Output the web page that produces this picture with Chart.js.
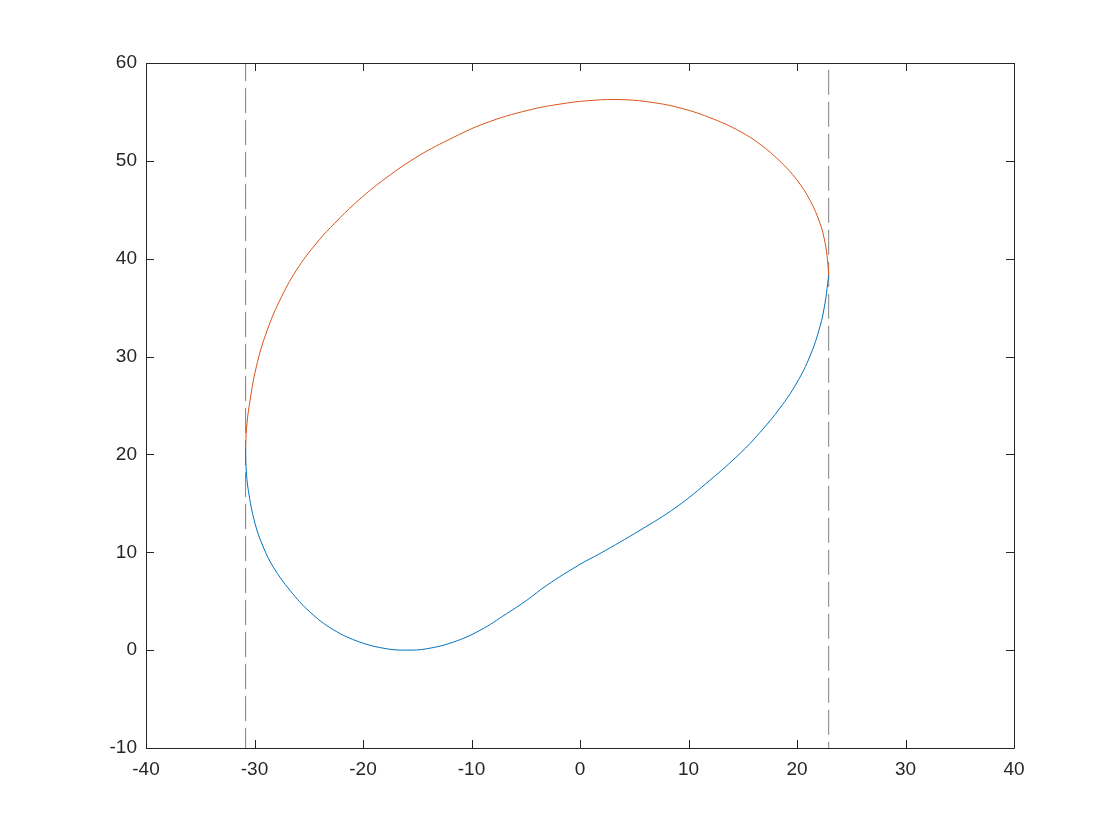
<!DOCTYPE html>
<html>
<head>
<meta charset="utf-8">
<script src="https://cdn.jsdelivr.net/npm/chart.js@4/dist/chart.umd.min.js"></script>
<style>
  html, body { margin: 0; padding: 0; background: #fff; }
  #wrap { width: 1120px; height: 840px; }
</style>
</head>
<body>
<div id="wrap"><canvas id="plot" width="1120" height="840"></canvas></div>
<script>
// upper (red) branch of the closed curve
var upperX = [-30.82, -30.74, -30.50, -29.83, -28.82, -27.50, -25.92, -24.03, -22.60, -20.70, -18.30, -15.20,
  -12.10, -8.68, -4.82, -1.55, 1.23, 3.69, 6.15, 9.22, 12.29, 14.75, 16.59, 18.43, 19.97, 21.20, 22.12,
  22.58, 22.81, 22.92];
var upperY = [20.7, 22.6, 24.87, 28.96, 32.72, 36.13, 39.20, 41.93, 43.64, 45.69, 47.90, 50.29,
  52.16, 53.87, 55.16, 55.85, 56.19, 56.26, 56.05, 55.41, 54.28, 53.01, 51.70, 49.96, 48.08, 45.97, 43.62,
  41.67, 39.88, 38.3];

// lower (blue) branch
var lowerX = [-30.82, -30.78, -30.57, -29.95, -29.19, -28.27, -26.73, -24.88, -22.74, -20.28, -17.82, -15.97,
  -14.13, -11.68, -9.22, -6.76, -4.91, -3.07, 0.0, 1.84, 5.53, 8.91, 11.98, 14.75, 16.59, 18.43, 19.97,
  21.20, 22.12, 22.58, 22.83, 22.92];
var lowerY = [20.7, 18.73, 16.34, 12.94, 10.54, 8.49, 6.11, 3.89, 2.09, 0.82, 0.14, 0.0,
  0.14, 0.82, 2.02, 3.73, 5.09, 6.62, 8.77, 9.87, 12.25, 14.64, 17.37, 20.10, 22.25, 24.74, 27.30,
  30.06, 33.07, 35.45, 37.50, 38.3];

// vertical dashed limit lines
var limitX = [-30.82, 22.92];
var limitTop = [60.7, 59.3];
var limitBottom = [-10, -10];

var xTicks = [-40, -30, -20, -10, 0, 10, 20, 30, 40];
var yTicks = [-10, 0, 10, 20, 30, 40, 50, 60];

var axisColor = '#262626';

function pts(xs, ys) {
  return xs.map(function (x, i) { return { x: x, y: ys[i] }; });
}

var datasets = [
  { data: pts(lowerX, lowerY), borderColor: '#0072BD', borderWidth: 1, tension: 0.4 },
  { data: pts(upperX, upperY), borderColor: '#D95319', borderWidth: 1, tension: 0.4 }
];
limitX.forEach(function (x, i) {
  datasets.push({
    data: [{ x: x, y: limitTop[i] }, { x: x, y: limitBottom[i] }],
    borderColor: '#808080', borderWidth: 1, borderDash: [25, 7], tension: 0
  });
});

// matlab style box with inward ticks on all four sides
var boxPlugin = {
  id: 'box',
  afterDraw: function (chart) {
    var ctx = chart.ctx;
    var a = chart.chartArea;
    var xs = chart.scales.x, ys = chart.scales.y;
    var len = 8;
    ctx.save();
    ctx.strokeStyle = axisColor;
    ctx.lineWidth = 1;
    ctx.beginPath();
    ctx.rect(Math.round(a.left) + 0.5, Math.round(a.top) + 0.5, Math.round(a.right - a.left), Math.round(a.bottom - a.top));
    xTicks.forEach(function (v) {
      var px = Math.round(xs.getPixelForValue(v)) + 0.5;
      ctx.moveTo(px, a.bottom); ctx.lineTo(px, a.bottom - len);
      ctx.moveTo(px, a.top); ctx.lineTo(px, a.top + len);
    });
    yTicks.forEach(function (v) {
      var py = Math.round(ys.getPixelForValue(v)) + 0.5;
      ctx.moveTo(a.left, py); ctx.lineTo(a.left + len, py);
      ctx.moveTo(a.right, py); ctx.lineTo(a.right - len, py);
    });
    ctx.stroke();
    ctx.restore();
  }
};

new Chart(document.getElementById('plot'), {
  type: 'scatter',
  data: { datasets: datasets },
  options: {
    responsive: false,
    animation: false,
    showLine: true,
    elements: { point: { radius: 0 } },
    layout: { padding: { left: 0, right: 106, top: 63, bottom: 0 } },
    plugins: { legend: { display: false }, tooltip: { enabled: false } },
    scales: {
      x: {
        type: 'linear', min: -40, max: 40,
        grid: { display: false, drawTicks: false },
        border: { display: false },
        afterFit: function (s) { s.height = 92; },
        afterBuildTicks: function (s) { s.ticks = xTicks.map(function (v) { return { value: v }; }); },
        ticks: { color: axisColor, padding: 10, maxRotation: 0, font: { family: 'Liberation Sans', size: 19 } }
      },
      y: {
        type: 'linear', min: -10, max: 60,
        grid: { display: false, drawTicks: false },
        border: { display: false },
        afterFit: function (s) { s.width = 146; },
        afterBuildTicks: function (s) { s.ticks = yTicks.map(function (v) { return { value: v }; }); },
        ticks: { color: axisColor, padding: 9, font: { family: 'Liberation Sans', size: 19 } }
      }
    }
  },
  plugins: [boxPlugin]
});
</script>
</body>
</html>
